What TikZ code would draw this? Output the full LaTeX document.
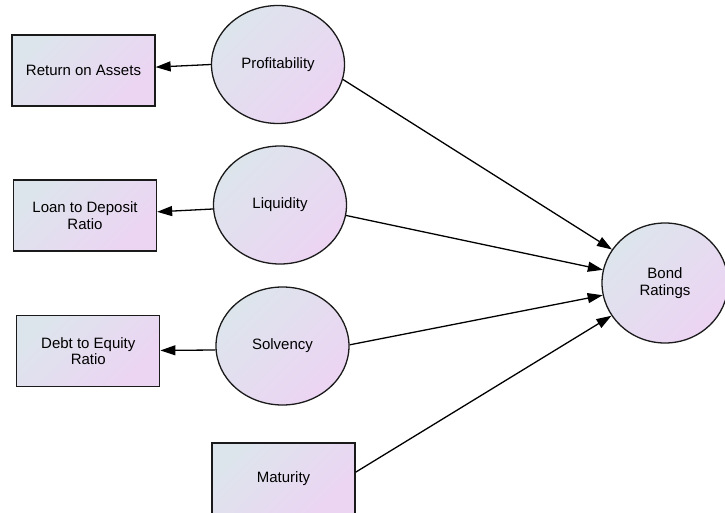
\documentclass[tikz,border=0pt]{standalone}
\usepackage{fontspec}
\setmainfont{Liberation Sans}
\usetikzlibrary{arrows.meta,shapes.geometric}
\definecolor{cA}{HTML}{DDE5EC}
\definecolor{cB}{HTML}{ECD4F3}
\definecolor{lineC}{HTML}{1A1A1A}
\tikzset{
  grad/.style={top color=cA, bottom color=cB, shading angle=45, draw=lineC, line width=1.3pt},
  boxnode/.style={grad, rectangle, minimum width=143pt, minimum height=71pt, align=center, inner sep=0pt},
  ellnode/.style={grad, ellipse, minimum width=133pt, minimum height=118pt, align=center, inner sep=0pt},
  conn/.style={draw=black, line width=1.3pt, -{Triangle[length=15pt,width=10pt]}},
  every node/.style={font=\fontsize{15}{16.5}\selectfont}
}
\begin{document}
\begin{tikzpicture}[x=1pt,y=-1pt]
\useasboundingbox (0,0) rectangle (725,513);
\node[boxnode] (roa) at (83.5,70.5) {Return on Assets};
\node[boxnode] (ltd) at (85,215.5) {Loan to Deposit\\Ratio};
\node[boxnode] (dte) at (88.3,351) {Debt to Equity\\Ratio};
\node[boxnode] (mat) at (283.5,478.5) {Maturity};
\node[ellnode] (prof) at (278,64.5) {Profitability};
\node[ellnode] (liq) at (280,205) {Liquidity};
\node[ellnode] (solv) at (282.5,346) {Solvency};
\node[ellnode, minimum width=126pt, minimum height=120pt] (bond) at (665,283) {Bond\\Ratings};
\draw[conn] (prof.west) -- (roa);
\draw[conn] ([yshift=-4pt]liq.west) -- (ltd);
\draw[conn] ([yshift=-4pt]solv.west) -- (dte);
\draw[conn] (prof.-13) -- (bond);
\draw[conn] (liq.-9) -- (bond);
\draw[conn] (solv.1) -- (bond);
\draw[conn] (mat.5) -- (bond);
\end{tikzpicture}
\end{document}
